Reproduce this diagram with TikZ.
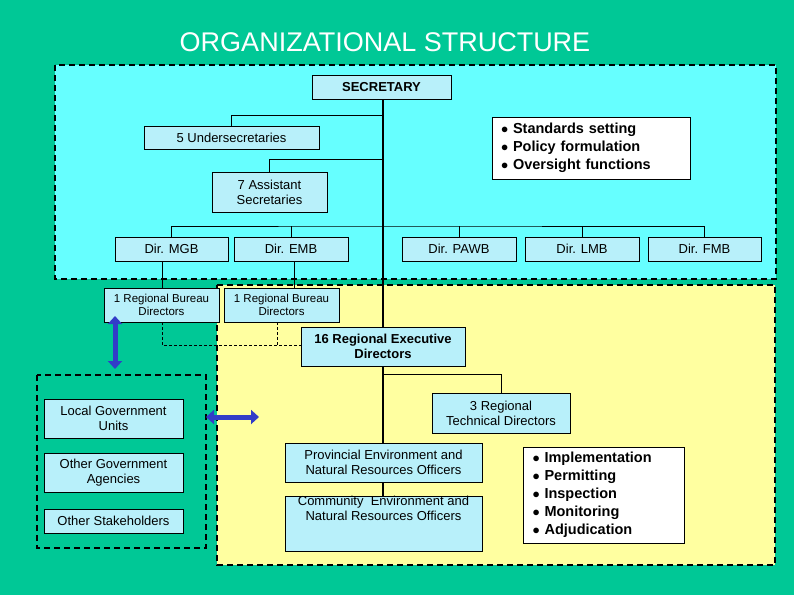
\documentclass[tikz,border=0pt]{standalone}
\usepackage{fontspec}
\setmainfont{Liberation Sans}
\usetikzlibrary{arrows.meta}
\definecolor{bg}{RGB}{0,200,150}
\definecolor{cy}{RGB}{102,255,255}
\definecolor{yl}{RGB}{255,255,160}
\definecolor{bx}{RGB}{184,240,250}
\definecolor{ar}{RGB}{50,60,200}
\begin{document}
\begin{tikzpicture}[x=1pt,y=-1pt,
  box/.style={draw=black,fill=bx,line width=0.5pt,align=center,inner sep=0pt,font=\fontsize{13}{15}\selectfont},
  wbox/.style={draw=black,fill=white,line width=0.5pt,align=left,inner sep=0pt,font=\fontsize{14.5}{18}\selectfont\bfseries},
  region/.style={draw=black,dashed,line width=1.3pt,dash pattern=on 6pt off 4pt},
  ln/.style={line width=0.6pt},
  dl/.style={line width=0.6pt,dash pattern=on 3pt off 2pt},
  dbl/.style={ar,line width=5pt,{Triangle[width=14pt,length=8pt]}-{Triangle[width=14pt,length=8pt]}}]
\fill[bg] (0,0) rectangle (794,595);
\useasboundingbox (0,0) rectangle (794,595);
\node[white,font=\fontsize{27}{30}\selectfont] (title) at (385,42) {ORGANIZATIONAL STRUCTURE};
\path[region,fill=cy] (55,65) rectangle (776,279);
\path[region,fill=yl] (217,285) rectangle (775,565);
\path[region,fill=bg] (37,375) rectangle (206,548);
% spine
\coordinate (sp1) at (383,99);
\coordinate (sp2) at (383,496);
\draw[line width=2.6pt] (sp1) -- (sp2);
\coordinate (j1) at (383,115);
\coordinate (j2) at (383,159);
\coordinate (j3) at (383,226);
\coordinate (j4) at (383,374);
% boxes
\newcommand{\bxn}[6]{\node[box,minimum width=#4-#2,minimum height=#5-#3,#6] (#1) at ({(#2+#4)/2},{(#3+#5)/2}) {};}
\node[box,minimum width=139,minimum height=24,font=\fontsize{13}{15}\selectfont\bfseries] (sec) at (381.5,87) {SECRETARY};
\node[box,minimum width=175,minimum height=23] (us) at (231.5,137.5) {5 Undersecretaries};
\node[box,minimum width=115,minimum height=40] (as) at (269.5,192) {7 Assistant\\Secretaries};
\node[wbox,minimum width=198,minimum height=62,text width=180] (b1) at (591,148) {$\bullet$ Standards setting\\$\bullet$ Policy formulation\\$\bullet$ Oversight functions};
\foreach \n/\a/\b/\t in {mgb/115/228/MGB,emb/234/348/EMB,pawb/402/516/PAWB,lmb/525/639/LMB,fmb/648/761/FMB}
  \node[box,minimum width=\b-\a,minimum height=24] (\n) at ({(\a+\b)/2},249) {Dir. \t};
\node[box,minimum width=115,minimum height=34,font=\fontsize{11.5}{13}\selectfont] (rb1) at (161.5,305) {1 Regional Bureau\\Directors};
\node[box,minimum width=115,minimum height=34,font=\fontsize{11.5}{13}\selectfont] (rb2) at (281.5,305) {1 Regional Bureau\\Directors};
\node[box,minimum width=164,minimum height=39,font=\fontsize{13}{15}\selectfont\bfseries] (red) at (383,346.5) {16 Regional Executive\\Directors};
\node[box,minimum width=138,minimum height=40] (rtd) at (501,413) {3 Regional\\Technical Directors};
\node[box,minimum width=197,minimum height=39] (pro) at (383.5,462.5) {Provincial Environment and\\Natural Resources Officers};
\node[box,minimum width=197,minimum height=55] (com) at (383.5,523.5) {Community\ \ Environment and\\Natural Resources Officers\\[1.2em]};
\node[wbox,minimum width=161,minimum height=96,text width=142] (b2) at (603.5,495) {$\bullet$ Implementation\\$\bullet$ Permitting\\$\bullet$ Inspection\\$\bullet$ Monitoring\\$\bullet$ Adjudication};
\node[box,minimum width=139,minimum height=39] (lgu) at (113.5,418.5) {Local Government\\Units};
\node[box,minimum width=139,minimum height=39] (oga) at (113.5,472.5) {Other Government\\Agencies};
\node[box,minimum width=139,minimum height=24] (ost) at (113.5,521) {Other Stakeholders};
% connectors
\draw[ln] (j1) -| (us.north);
\draw[ln] (j2) -| (as.north);
\draw[ln] (mgb.north) |- (j3) -| (fmb.north);
\draw[ln] (emb.north) -- (emb.north|-j3);
\draw[ln] (pawb.north) -- (pawb.north|-j3);
\draw[ln] (lmb.north) -- (lmb.north|-j3);
\draw[ln] (162,261) -- (162,288);
\draw[ln] (294,261) -- (294,288);
\draw[dl] (162,322) -- (162,345) -- (red.west|-0,345);
\draw[dl] (277,322) -- (277,345);
\draw[ln] (j4) -| (rtd.north);
% arrows
\coordinate (va1) at (115,316); \coordinate (va2) at (115,369);
\draw[dbl] (va1) -- (va2);
\coordinate (ha1) at (206,417); \coordinate (ha2) at (259,417);
\draw[dbl] (ha1) -- (ha2);
\end{tikzpicture}
\end{document}
